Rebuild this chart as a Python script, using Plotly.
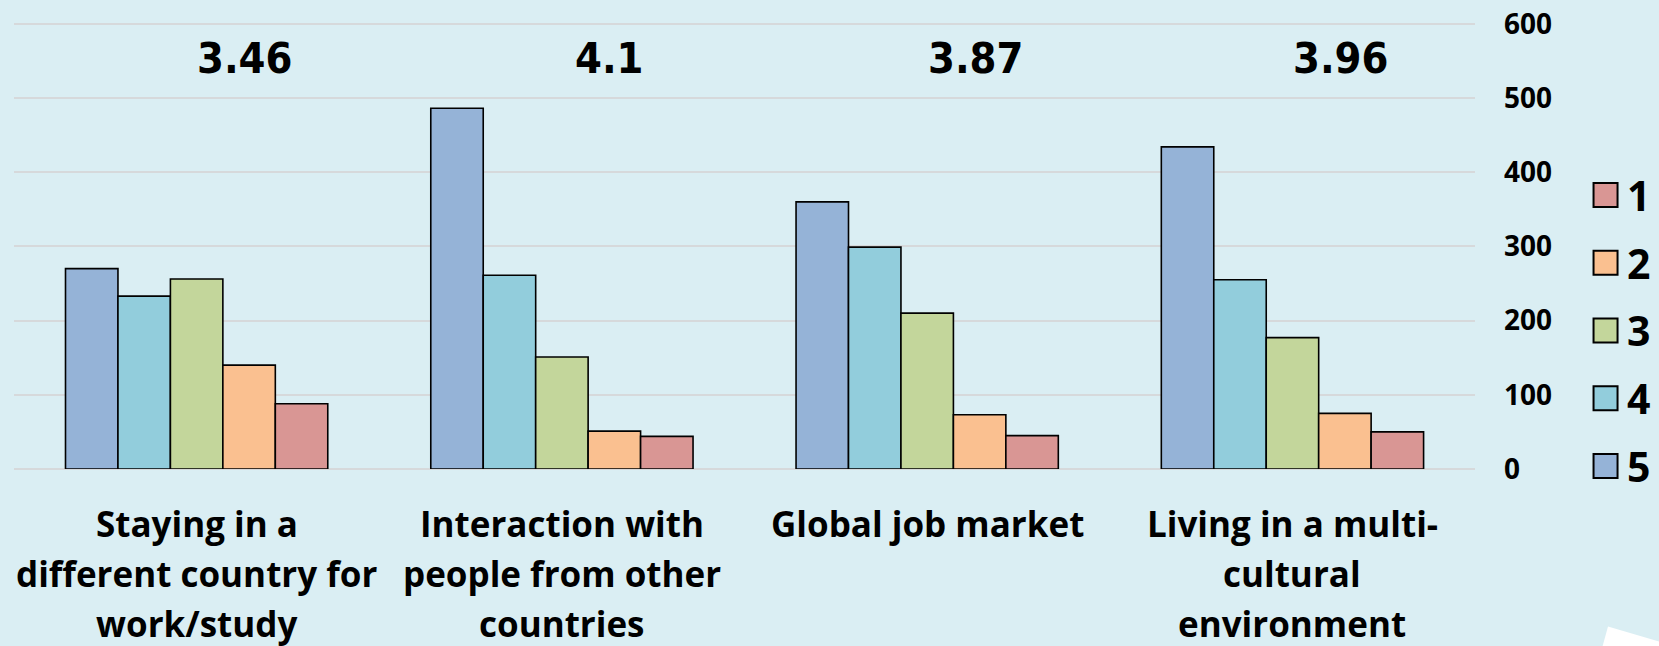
import plotly.graph_objects as go

# categories and their wrapped labels (as on the slide)
categories = [
    "Staying in a different country for work/study",
    "Interaction with people from other countries",
    "Global job market",
    "Living in a multi-cultural environment",
]
label_lines = [
    ["Staying in a", "different country for", "work/study"],
    ["Interaction with", "people from other", "countries"],
    ["Global job market"],
    ["Living in a multi-", "cultural", "environment"],
]
mean_scores = ["3.46", "4.1", "3.87", "3.96"]

# counts per rating (bars left to right: 5, 4, 3, 2, 1)
rating_5 = [270, 486, 360, 434]
rating_4 = [233, 261, 299, 255]
rating_3 = [256, 151, 210, 177]
rating_2 = [140, 51, 73, 75]
rating_1 = [88, 44, 45, 50]

ratings = ["5", "4", "3", "2", "1"]
legend_keys = ["1", "2", "3", "4", "5"]
y_ticks = [0, 100, 200, 300, 400, 500, 600]

series = {"5": rating_5, "4": rating_4, "3": rating_3, "2": rating_2, "1": rating_1}
colors = {"5": "#95B3D7", "4": "#92CDDC", "3": "#C3D69B", "2": "#FAC090", "1": "#D99694"}

BG = "#DAEEF3"
FONT = "Open Sans"

fig = go.Figure()

for r in ratings:
    fig.add_trace(go.Bar(
        x=categories,
        y=series[r],
        name=r,
        marker=dict(color=colors[r], line=dict(color="black", width=1.6)),
        showlegend=False,
    ))

# legend drawn as a small side panel so the keys can be big squares
fig.add_trace(go.Scatter(
    x=[0] * len(legend_keys),
    y=legend_keys,
    mode="markers",
    marker=dict(symbol="square", size=24, color=[colors[k] for k in legend_keys],
                line=dict(color="black", width=2)),
    xaxis="x2",
    yaxis="y2",
    cliponaxis=False,
    showlegend=False,
    hoverinfo="skip",
))

annotations = []

# legend labels next to the keys (category axis -> position by index)
for i, k in enumerate(legend_keys):
    annotations.append(dict(
        x=0, y=i, xref="x2", yref="y2",
        text=k, showarrow=False, xanchor="left", yanchor="middle", xshift=19,
        font=dict(family=FONT, size=41, color="black", weight="bold"),
    ))

# mean score above each group
for cat, m in zip(categories, mean_scores):
    annotations.append(dict(
        x=cat, y=0.915, xref="x", yref="paper",
        text=m, showarrow=False, xshift=48, yanchor="middle",
        font=dict(family="DejaVu Sans Condensed, DejaVu Sans", size=43, color="black", weight="bold"),
    ))

# category labels, one annotation per line to get the wide line spacing
for cat, lines in zip(categories, label_lines):
    for i, line in enumerate(lines):
        annotations.append(dict(
            x=cat, y=0, xref="x", yref="paper",
            text=line, showarrow=False, yanchor="middle",
            yshift=-(54 + i * 50),
            font=dict(family=FONT, size=35, color="black", weight="bold"),
        ))

fig.update_layout(
    width=1659,
    height=646,
    paper_bgcolor=BG,
    plot_bgcolor=BG,
    margin=dict(l=14, r=0, t=20, b=177),
    barmode="group",
    bargap=0.282,
    bargroupgap=0,
    showlegend=False,
    annotations=annotations,
    xaxis=dict(
        domain=[0, 0.8882],
        type="category",
        showticklabels=False,
        showgrid=False,
        zeroline=False,
        showline=False,
        ticks="",
    ),
    yaxis=dict(
        side="right",
        range=[0, 605],
        tickvals=y_ticks,
        showgrid=True,
        gridcolor="#D6D9DB",
        gridwidth=2,
        zeroline=True,
        zerolinecolor="#D6D9DB",
        zerolinewidth=2,
        showline=False,
        ticks="",
        ticklabelstandoff=28,
        tickfont=dict(family=FONT, size=28, color="black", weight="bold"),
    ),
    xaxis2=dict(domain=[0.96, 0.975], anchor="y2", range=[-1, 1], visible=False),
    yaxis2=dict(
        domain=[0, 1], anchor="x2", type="category",
        categoryorder="array", categoryarray=legend_keys,
        range=[4.044, -2.58], visible=False,
    ),
    shapes=[dict(
        type="path", xref="paper", yref="paper",
        path="M 0.969 -0.351 L 1.0 -0.384 L 1.0 -0.4 L 0.9653 -0.4 Z",
        fillcolor="white", line=dict(width=0), layer="above",
    )],
)

# drop the browser's default page margin so the chart sits at the top-left corner
fig.write_html(
    "out.html",
    config={"displayModeBar": False},
    post_script="document.body.style.margin='0';",
)
